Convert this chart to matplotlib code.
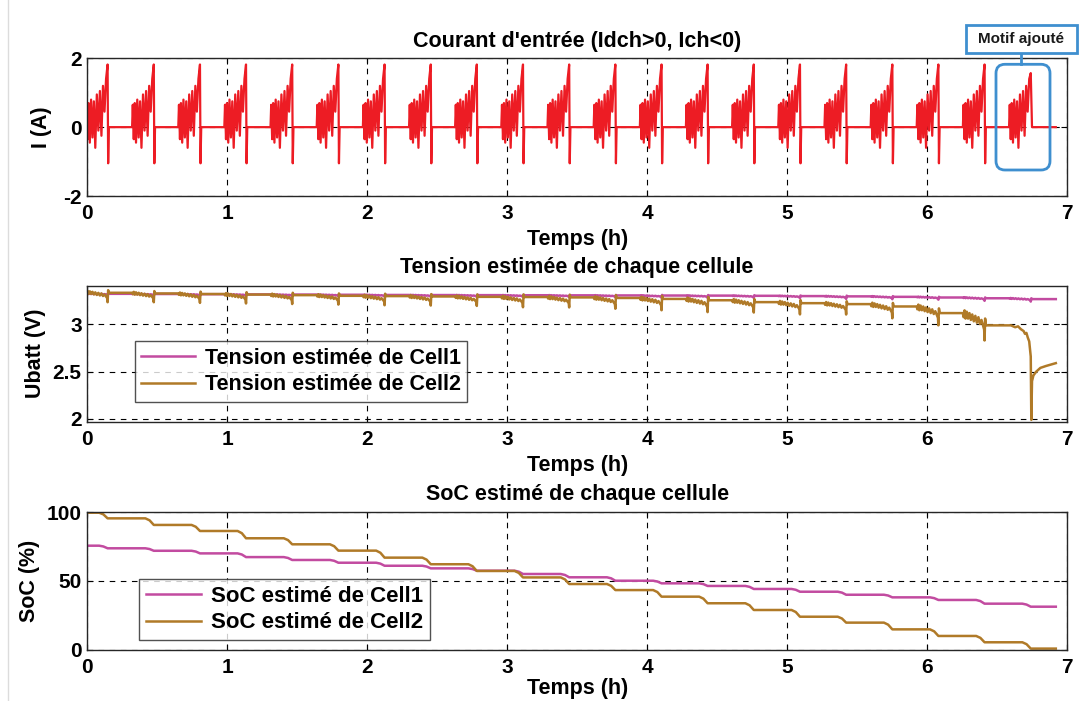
import matplotlib
matplotlib.use("Agg")
import matplotlib.pyplot as plt
import numpy as np
from matplotlib.patches import FancyBboxPatch, Rectangle
from matplotlib.lines import Line2D

plt.rcParams['font.family'] = ['Liberation Sans', 'DejaVu Sans']
plt.rcParams['font.weight'] = 'bold'
plt.rcParams['axes.titleweight'] = 'bold'
plt.rcParams['axes.labelweight'] = 'bold'
plt.rcParams['axes.unicode_minus'] = False

# ---------------- data ----------------
t_end = 6.92
x_ticks = [0, 1, 2, 3, 4, 5, 6, 7]

# time of the main discharge spike of each pulse pattern (h)
burst_spike_t = [0.145, 0.475, 0.805, 1.134, 1.464, 1.794, 2.124, 2.454, 2.783,
                 3.113, 3.443, 3.773, 4.103, 4.432, 4.762, 5.092, 5.422, 5.752,
                 6.081, 6.411, 6.741]
burst_peak_A = [1.82, 1.82, 1.82, 1.82, 1.82, 1.82, 1.82, 1.82, 1.82, 1.82, 1.82,
                1.82, 1.82, 1.82, 1.82, 1.82, 1.82, 1.82, 1.82, 1.82, 1.57]
burst_neg_A = [-1.05, -1.05, -1.05, -1.05, -1.05, -1.05, -1.05, -1.05, -1.05, -1.05,
               -1.05, -1.05, -1.05, -1.05, -1.05, -1.05, -1.05, -1.05, -1.05, -1.05, 0.0]

# one current pattern, times relative to its spike (h), current (A)
pulse_offset_h = [-0.155, -0.150, -0.143, -0.136, -0.127, -0.118, -0.108, -0.098,
                  -0.088, -0.077, -0.066, -0.055, -0.044, -0.033, -0.022, -0.011]
pulse_current_A = [0.0, 0.65, -0.35, 0.7, -0.45, 0.8, -0.3, 0.75,
                   -0.6, 0.95, -0.1, 1.05, -0.25, 1.2, 0.45, 1.4]

# voltage: rest level between patterns (V) and depth of the dip of each pattern
cell1_rest_V = [3.326, 3.324, 3.322, 3.320, 3.318, 3.316, 3.314, 3.312, 3.311, 3.310,
                3.309, 3.308, 3.307, 3.306, 3.305, 3.303, 3.300, 3.297, 3.292, 3.285,
                3.277, 3.268]
cell1_dip_V = [0.02, 0.02, 0.02, 0.02, 0.02, 0.02, 0.02, 0.02, 0.02, 0.02, 0.02,
               0.02, 0.025, 0.025, 0.025, 0.025, 0.03, 0.03, 0.03, 0.035, 0.035]
cell2_rest_V = [3.345, 3.335, 3.328, 3.322, 3.316, 3.310, 3.303, 3.300, 3.296, 3.292,
                3.290, 3.286, 3.280, 3.270, 3.256, 3.236, 3.225, 3.215, 3.190, 3.120,
                2.990]
cell2_dip_V = [0.11, 0.10, 0.10, 0.10, 0.10, 0.10, 0.10, 0.10, 0.10, 0.11,
               0.11, 0.12, 0.13, 0.14, 0.13, 0.13, 0.12, 0.15, 0.20, 0.29]
# shape of a voltage pattern (fraction of its dip) vs time from spike (h)
vpat_offset_h = [-0.155, -0.150, -0.143, -0.136, -0.127, -0.118, -0.108, -0.098,
                 -0.088, -0.077, -0.066, -0.055, -0.044, -0.033, -0.022, -0.011,
                 -0.003, 0.0, 0.004, 0.010]
vpat_shape = [0.0, -0.15, 0.1, -0.2, 0.05, -0.2, 0.0, -0.25,
              -0.05, -0.3, -0.1, -0.35, -0.15, -0.4, -0.25, -0.45,
              -0.6, -1.0, 0.25, 0.0]
# cell 2 end of discharge (explicit)
cell2_tail_t = [6.60, 6.63, 6.65, 6.67, 6.69, 6.70, 6.71, 6.72, 6.73, 6.737, 6.741,
                6.745, 6.750, 6.76, 6.78, 6.81, 6.85, 6.92]
cell2_tail_V = [2.99, 2.97, 2.98, 2.95, 2.93, 2.90, 2.91, 2.86, 2.82, 2.72, 2.66,
                1.99, 2.40, 2.46, 2.50, 2.54, 2.56, 2.59]

# SoC levels (%) before the first pattern and after each pattern
soc1_levels = [75.7, 73.8, 72.0, 70.1, 67.4, 65.3, 63.3, 61.1, 59.2, 57.5, 55.1,
               52.7, 50.2, 48.3, 46.4, 44.2, 42.2, 40.0, 38.1, 36.2, 33.5, 31.3]
soc2_levels = [99.7, 95.6, 90.8, 86.4, 81.1, 76.7, 72.1, 67.0, 62.2, 57.3, 52.6,
               47.8, 43.4, 38.6, 33.8, 28.9, 24.0, 19.7, 14.8, 10.0, 5.4, 0.8]

red = '#ED1C24'
c1 = '#C24BA0'
c2 = '#B07A28'
blue = '#3F8FCF'

# ---------------- build traces ----------------
ti, ii = [0.0], [0.0]
for k, ts in enumerate(burst_spike_t):
    for off, val in zip(pulse_offset_h, pulse_current_A):
        if ts + off > ti[-1]:
            ti.append(ts + off); ii.append(val)
    ti.append(ts); ii.append(burst_peak_A[k])
    if burst_neg_A[k] != 0.0:
        ti.append(ts + 0.004); ii.append(burst_neg_A[k])
    ti.append(ts + 0.009); ii.append(0.0)
ti.append(t_end); ii.append(0.0)

def volt(rest, dip, nb):
    tv, vv = [0.0], [rest[0]]
    for k in range(nb):
        ts = burst_spike_t[k]
        for off, s in zip(vpat_offset_h, vpat_shape):
            t = ts + off
            if t <= tv[-1]:
                continue
            base = rest[k] if off <= 0 else rest[k + 1]
            tv.append(t); vv.append(base + s * dip[k])
    return tv, vv

tv1, vv1 = volt(cell1_rest_V, cell1_dip_V, 21)
tv1.append(t_end); vv1.append(cell1_rest_V[21])
tv2, vv2 = volt(cell2_rest_V, cell2_dip_V, 20)
tv2 += cell2_tail_t; vv2 += cell2_tail_V

def soc(levels):
    ts_, ss = [0.0], [levels[0]]
    for k, ts in enumerate(burst_spike_t):
        ts_ += [ts - 0.06, ts - 0.03, ts]
        ss += [levels[k], levels[k] - 0.3 * (levels[k] - levels[k + 1]), levels[k + 1]]
    ts_.append(t_end); ss.append(levels[-1])
    return ts_, ss

ts1, s1 = soc(soc1_levels)
ts2, s2 = soc(soc2_levels)

# ---------------- figure ----------------
fig = plt.figure(figsize=(10.86, 7.01), dpi=100)
W, H = 1086.0, 701.0
L, R = 87.3, 1067.0
FS = 15
FL = 15.5

def axes_px(top, bottom):
    return fig.add_axes([L / W, 1 - bottom / H, (R - L) / W, (bottom - top) / H])

ax1 = axes_px(58.3, 196.0)
ax2 = axes_px(285.7, 421.7)
ax3 = axes_px(512.3, 649.7)

for ax, lp in ((ax1, 4), (ax2, 4), (ax3, 1)):
    ax.set_xlim(0, 7)
    ax.set_xticks(x_ticks)
    ax.grid(True, color='black', linestyle=(0, (5, 5)), linewidth=0.8)
    ax.tick_params(direction='in', top=True, right=True, length=4, labelsize=FS,
                   width=0.8, pad=4)
    ax.tick_params(axis='x', pad=6)
    for sp in ax.spines.values():
        sp.set_linewidth(1.0)
        sp.set_color('#262626')
    ax.set_xlabel('Temps (h)', fontsize=FL, labelpad=lp)

ax1.plot(ti, ii, color=red, lw=1.6)
ax1.set_ylim(-2, 2)
ax1.set_yticks([-2, 0, 2])
ax1.set_title("Courant d'entrée (Idch>0, Ich<0)", fontsize=FL, pad=8)
ax1.set_ylabel('I (A)', fontsize=FL, labelpad=8)

ax2.plot(tv1, vv1, color=c1, lw=1.8, label='Tension estimée de Cell1')
ax2.plot(tv2, vv2, color=c2, lw=1.8, label='Tension estimée de Cell2')
ax2.set_ylim(1.97, 3.41)
ax2.set_yticks([2, 2.5, 3])
ax2.set_yticklabels(['2', '2.5', '3'])
ax2.set_title('Tension estimée de chaque cellule', fontsize=FL, pad=9)
ax2.set_ylabel('Ubatt (V)', fontsize=FL, labelpad=5)

ax3.plot(ts1, s1, color=c1, lw=1.8, label='SoC estimé de Cell1')
ax3.plot(ts2, s2, color=c2, lw=1.8, label='SoC estimé de Cell2')
ax3.set_ylim(0, 100)
ax3.set_yticks([0, 50, 100])
ax3.set_title('SoC estimé de chaque cellule', fontsize=FL, pad=9)
ax3.set_ylabel('SoC (%)', fontsize=FL, labelpad=5)

for ax, anchor, fs in ((ax2, (0.0487, 0.147), 15.5), (ax3, (0.053, 0.07), 16)):
    leg = ax.legend(loc='lower left', bbox_to_anchor=anchor, fontsize=fs,
                    frameon=True, fancybox=False, edgecolor='#262626',
                    handlelength=2.5, handletextpad=0.45, borderpad=0.3,
                    labelspacing=0.25, borderaxespad=0)
    leg.get_frame().set_linewidth(1.0)

# annotation "Motif ajouté"
tr = fig.dpi_scale_trans
def pin(x, y):
    return x / 100.0, (H - y) / 100.0

x0, y0 = pin(996, 170)
x1, y1 = pin(1050, 64.3)
fig.patches.append(FancyBboxPatch((x0, y0), x1 - x0, y1 - y0,
                                  boxstyle='round,pad=0,rounding_size=0.09',
                                  transform=tr, fill=False, ec=blue, lw=2))
bx0, by0 = pin(966, 53.3)
bx1, by1 = pin(1077, 25)
fig.patches.append(Rectangle((bx0, by0), bx1 - bx0, by1 - by0, transform=tr,
                             fc='white', ec=blue, lw=2, zorder=3))
fig.lines.append(Line2D([pin(1021, 0)[0]] * 2, [pin(0, 53.3)[1], pin(0, 64.3)[1]],
                        transform=tr, color=blue, lw=2))
tx, ty = pin(1021.5, 39.5)
fig.text(tx, ty, 'Motif ajouté', transform=tr, ha='center', va='center',
         fontsize=11, fontweight='bold', color='#1a1a1a', zorder=4)

fig.lines.append(Line2D([0.075, 0.075], [0, H / 100.0], transform=tr, color='#dcdcdc', lw=1))

fig.savefig('out.png', dpi=100)
